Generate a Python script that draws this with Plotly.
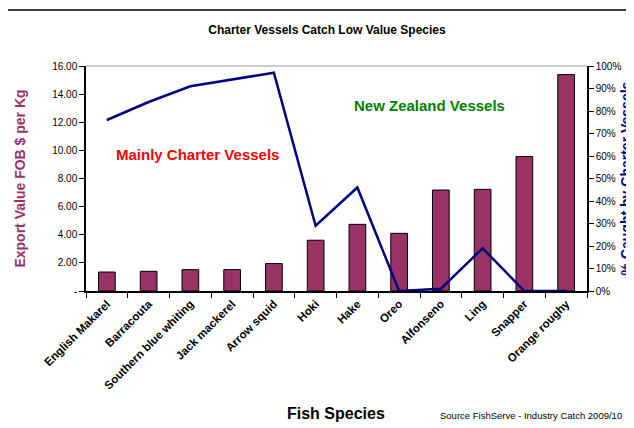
import plotly.graph_objects as go

species = ["English Makarel", "Barracouta", "Southern blue whiting", "Jack mackerel",
           "Arrow squid", "Hoki", "Hake", "Oreo", "Alfonseno", "Ling", "Snapper", "Orange roughy"]
export_value = [1.35, 1.40, 1.52, 1.52, 1.95, 3.61, 4.74, 4.10, 7.18, 7.23, 9.56, 15.39]
pct_charter = [76, 84, 91, 94, 97, 29, 46, 0, 1, 19, 0, 0]

left_ticks = [0, 2, 4, 6, 8, 10, 12, 14, 16]
left_labels = ["-", "2.00", "4.00", "6.00", "8.00", "10.00", "12.00", "14.00", "16.00"]
right_ticks = list(range(0, 101, 10))
right_labels = [f"{v}%" for v in right_ticks]

FONT = "Liberation Sans, Arial, sans-serif"

OFF = 8  # page body margin
W, H = 634 - OFF, 428 - OFF
L = 86 - OFF
T = 66 - OFF
R = W - (587 - OFF)
B = H - (291 - OFF)
pw, ph = W - L - R, H - T - B

def px(x):
    return (x - OFF - L) / pw

def py(y):
    return (H - B - (y - OFF)) / ph

fig = go.Figure()
fig.add_trace(go.Bar(x=species, y=export_value, width=0.4,
                     marker=dict(color="#993366", line=dict(color="black", width=1)),
                     yaxis="y", showlegend=False))
fig.add_trace(go.Scatter(x=species, y=pct_charter, mode="lines",
                         line=dict(color="#000080", width=2.5),
                         yaxis="y2", showlegend=False))

fig.update_layout(
    width=W, height=H,
    margin=dict(l=L, r=R, t=T, b=B, autoexpand=False),
    paper_bgcolor="white", plot_bgcolor="white",
    font=dict(family=FONT, color="black", size=10),
    title=dict(text="<b>Charter Vessels Catch Low Value Species</b>", x=(327 - OFF) / W, xanchor="center",
               y=1 - (30 - OFF) / H, yanchor="middle", font=dict(size=12, family=FONT)),
    xaxis=dict(type="category", range=[-0.5, 11.5], showline=True, linecolor="black", linewidth=1.5,
               ticks="outside", ticklen=5, tickcolor="black", tickson="boundaries",
               tickvals=species, ticktext=[f"<b>{s}</b>" for s in species],
               tickangle=-45, tickfont=dict(size=11.5, family=FONT), showgrid=False, zeroline=False,
               automargin=False),
    yaxis=dict(range=[0, 16], tickvals=left_ticks, ticktext=left_labels, showline=True,
               linecolor="black", linewidth=1.5, ticks="outside", ticklen=5, tickcolor="black",
               showgrid=False, zeroline=False, tickfont=dict(size=10, family=FONT),
               title=dict(text="<b>Export Value FOB $ per Kg</b>", font=dict(size=14, color="#993366", family=FONT),
                          standoff=23), automargin=False),
    yaxis2=dict(range=[0, 100], tickvals=right_ticks, ticktext=right_labels, overlaying="y", side="right",
                showline=True, linecolor="black", linewidth=1.5, ticks="outside", ticklen=5, tickcolor="black",
                showgrid=False, zeroline=False, tickfont=dict(size=10, family=FONT),
                title=dict(text="<b>% Caught by Charter Vessels</b>", font=dict(size=14, color="#000080", family=FONT),
                           standoff=6), automargin=False),
    annotations=[
        dict(text="<b>Mainly Charter Vessels</b>", x=px(197), y=py(154), xref="paper", yref="paper",
             xanchor="center", yanchor="middle",
             showarrow=False, font=dict(size=15, color="#FF0000", family=FONT)),
        dict(text="<b>New Zealand Vessels</b>", x=px(429), y=py(105), xref="paper", yref="paper",
             xanchor="center", yanchor="middle",
             showarrow=False, font=dict(size=15, color="#008000", family=FONT)),
        dict(text="<b>Fish Species</b>", x=px(336), y=py(413), xref="paper", yref="paper",
             xanchor="center", yanchor="middle",
             showarrow=False, font=dict(size=16, color="black", family=FONT)),
        dict(text="Source FishServe - Industry Catch 2009/10", x=px(438), y=py(415), xref="paper", yref="paper",
             xanchor="left", yanchor="middle",
             showarrow=False, font=dict(size=9.5, color="black", family=FONT)),
    ],
    shapes=[
        dict(type="rect", xref="paper", yref="paper", x0=px(7), x1=px(650), y0=py(445), y1=py(10),
             line=dict(color="black", width=1.5), layer="below"),
        dict(type="line", xref="paper", yref="paper", x0=0, x1=1, y0=1, y1=1,
             line=dict(color="#999999", width=1)),
    ],
)

fig.write_html("out.html")
